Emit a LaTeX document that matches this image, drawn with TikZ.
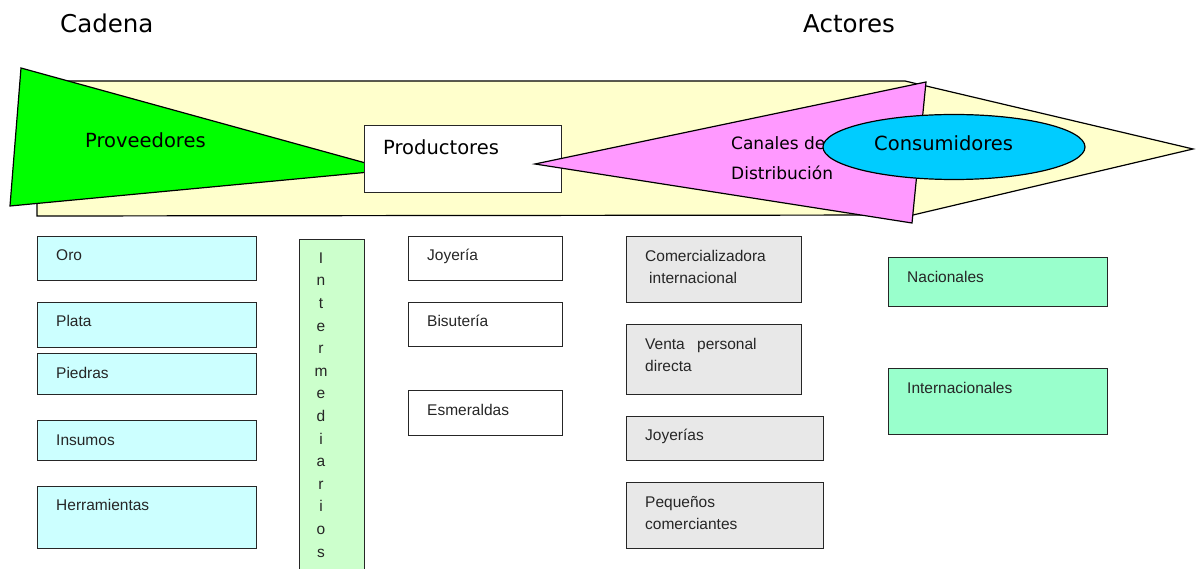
\documentclass[tikz,border=0pt]{standalone}
\usepackage{fontspec}
\setmainfont{Liberation Sans}
\newfontfamily\titlefont{DejaVu Sans}
\usetikzlibrary{shapes.geometric}
\definecolor{yel}{HTML}{FFFFCC}
\definecolor{grn}{HTML}{00FF00}
\definecolor{pnk}{HTML}{FF99FF}
\definecolor{cyn}{HTML}{00CCFF}
\definecolor{cyb}{HTML}{CCFFFF}
\definecolor{ltg}{HTML}{CCFFCC}
\definecolor{gry}{HTML}{E8E8E8}
\definecolor{mnt}{HTML}{99FFCC}
\begin{document}
\begin{tikzpicture}[x=1pt,y=-1pt,
  shp/.style={draw=black, line width=1.2pt, line join=miter},
  boxst/.style={draw=black!85, line width=1.3pt, anchor=north west, inner sep=0pt},
  lbl/.style={anchor=base west, inner sep=0pt, font=\fontsize{15.5}{18}\selectfont, text=black!85},
  big/.style={anchor=base west, inner sep=0pt, font=\titlefont\fontsize{19.5}{22}\selectfont},
  mid/.style={anchor=base west, inner sep=0pt, font=\titlefont\fontsize{17}{20}\selectfont},
  ttl/.style={anchor=base west, inner sep=0pt, font=\titlefont\fontsize{24.5}{28}\selectfont}]
\useasboundingbox (0,0) rectangle (1200,569);
\clip (0,0) rectangle (1200,569);
\fill[white] (0,0) rectangle (1200,569);

% titles
\node[ttl] (cadena) at (60,33) {Cadena};
\node[ttl] (actores) at (803,33) {Actores};

% band
\filldraw[shp, fill=yel] (37,81) -- (905,81) -- (1193,149) -- (913,215) -- (37,216) -- cycle;
% proveedores triangle
\filldraw[shp, fill=grn] (21,68) -- (391,170) -- (10,206) -- cycle;
\node[big] (prov) at (85,148) {Proveedores};
% productores box
\node[boxst, fill=white, minimum width=197pt, minimum height=67pt] (prodbox) at (364,125) {};
\node[big] (prod) at (383,155) {Productores};
% canales triangle
\filldraw[shp, fill=pnk] (535,164) -- (926,82) -- (912,223) -- cycle;
\node[mid] (can1) at (731,150) {Canales de};
\node[mid] (can2) at (731,179.5) {Distribución};
% consumidores ellipse
\node[ellipse, shp, fill=cyn, minimum width=262pt, minimum height=65pt, inner sep=0pt] (consell) at (954,147) {};
\node[big] (cons) at (874,150.5) {Consumidores};

% proveedores column
\node[boxst, fill=cyb, minimum width=219pt, minimum height=44pt] (oro) at (37,236) {};
\node[lbl] (toro) at (56,261) {Oro};
\node[boxst, fill=cyb, minimum width=219pt, minimum height=45pt] (plata) at (37,302) {};
\node[lbl] (tplata) at (56,326.5) {Plata};
\node[boxst, fill=cyb, minimum width=219pt, minimum height=41pt] (piedras) at (37,353) {};
\node[lbl] (tpiedras) at (56,378) {Piedras};
\node[boxst, fill=cyb, minimum width=219pt, minimum height=40pt] (insumos) at (37,420) {};
\node[lbl] (tinsumos) at (56,445) {Insumos};
\node[boxst, fill=cyb, minimum width=219pt, minimum height=62pt] (herr) at (37,486) {};
\node[lbl] (therr) at (56,510) {Herramientas};

% intermediarios
\node[boxst, fill=ltg, minimum width=65pt, minimum height=345pt] (inter) at (299,239) {};
\node[anchor=base, inner sep=0pt, font=\fontsize{15.5}{22.6}\selectfont, text=black!85] (tinter) at (321,263.3)
  {\begin{tabular}[t]{@{}c@{}}I\\n\\t\\e\\r\\m\\e\\d\\i\\a\\r\\i\\o\\s\end{tabular}};

% productores column
\node[boxst, fill=white, minimum width=154pt, minimum height=44pt] (joy) at (408,236) {};
\node[lbl] (tjoy) at (427,260.5) {Joyería};
\node[boxst, fill=white, minimum width=154pt, minimum height=44pt] (bis) at (408,302) {};
\node[lbl] (tbis) at (427,326.5) {Bisutería};
\node[boxst, fill=white, minimum width=154pt, minimum height=45pt] (esm) at (408,390) {};
\node[lbl] (tesm) at (427,415.5) {Esmeraldas};

% canales column
\node[boxst, fill=gry, minimum width=175pt, minimum height=66pt] (com) at (626,236) {};
\node[lbl] (tcom1) at (645,261.3) {Comercializadora};
\node[lbl] (tcom2) at (649,283.3) {internacional};
\node[boxst, fill=gry, minimum width=175pt, minimum height=70pt] (venta) at (626,324) {};
\node[lbl] (tven1) at (645,349.3) {Venta\hspace{8pt} personal};
\node[lbl] (tven2) at (645,371.7) {directa};
\node[boxst, fill=gry, minimum width=197pt, minimum height=44pt] (joys) at (626,416) {};
\node[lbl] (tjoys) at (645,440) {Joyerías};
\node[boxst, fill=gry, minimum width=197pt, minimum height=66pt] (peq) at (626,482) {};
\node[lbl] (tpeq1) at (645,507.3) {Pequeños};
\node[lbl] (tpeq2) at (645,529) {comerciantes};

% consumidores column
\node[boxst, fill=mnt, minimum width=219pt, minimum height=49pt] (nac) at (888,257) {};
\node[lbl] (tnac) at (907,282.3) {Nacionales};
\node[boxst, fill=mnt, minimum width=219pt, minimum height=66pt] (int) at (888,368) {};
\node[lbl] (tint) at (907,393.3) {Internacionales};
\end{tikzpicture}
\end{document}
